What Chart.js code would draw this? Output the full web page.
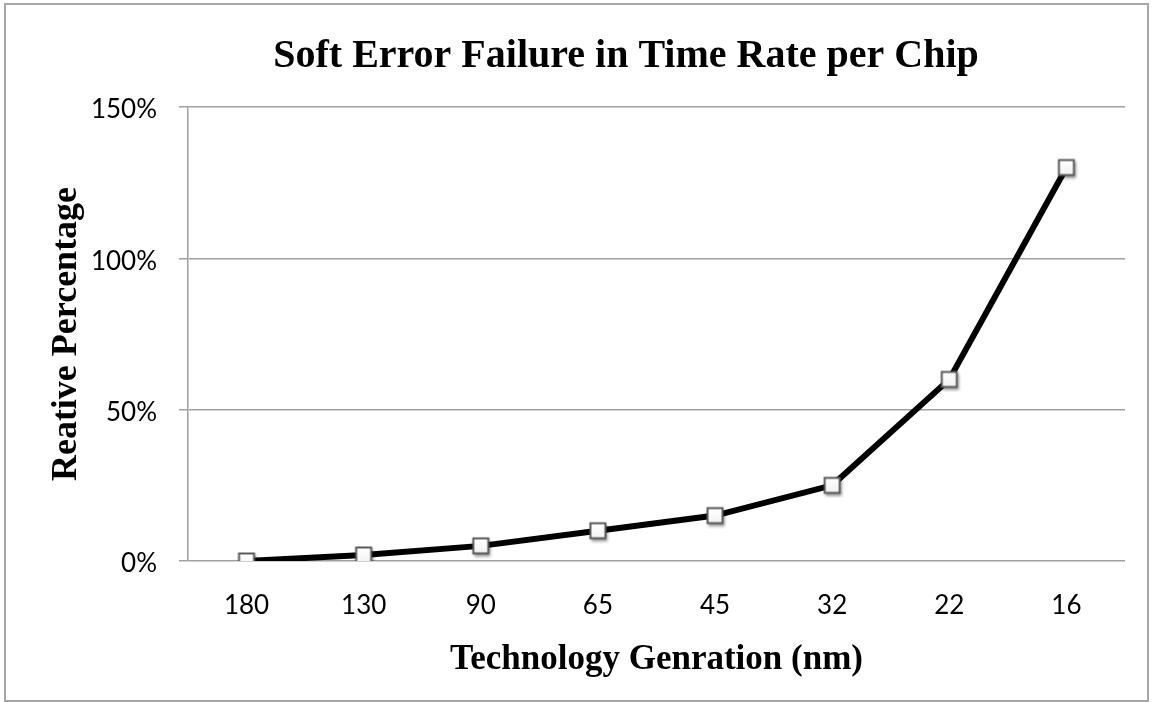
<!DOCTYPE html>
<html>
<head>
<meta charset="utf-8">
<script src="https://cdn.jsdelivr.net/npm/chart.js@4/dist/chart.umd.min.js"></script>
<style>
  html, body { margin: 0; padding: 0; background: #ffffff; }
  #wrap { position: relative; width: 1153px; height: 702px; }
</style>
</head>
<body>
<div id="wrap"><canvas id="c" width="1153" height="702"></canvas></div>
<script>
const categories = ['180', '130', '90', '65', '45', '32', '22', '16'];
const seriesValues = [0, 2, 5, 10, 15, 25, 60, 130];
const yTickValues = [0, 50, 100, 150];
const chartTitle = 'Soft Error Failure in Time Rate per Chip';
const xAxisTitle = 'Technology Genration (nm)';
const yAxisTitle = 'Reative Percentage';

// marker image: white square with grey border and a soft drop shadow
function makeMarker() {
  const c = document.createElement('canvas');
  c.width = 26; c.height = 26;
  const g = c.getContext('2d');
  g.save();
  g.shadowColor = 'rgba(0,0,0,0.45)';
  g.shadowBlur = 3;
  g.shadowOffsetX = 1;
  g.shadowOffsetY = 2;
  g.fillStyle = '#5a5a5a';
  g.fillRect(4.5, 4.5, 17, 17);
  g.restore();
  const grad = g.createLinearGradient(0, 7, 0, 20);
  grad.addColorStop(0, '#ffffff');
  grad.addColorStop(1, '#f2f2f2');
  g.fillStyle = grad;
  g.fillRect(6.5, 6.5, 13, 13);
  return c;
}
const markerImg = makeMarker();

const frameAndTitle = {
  id: 'frameAndTitle',
  beforeDraw(chart) {
    const ctx = chart.ctx;
    ctx.save();
    ctx.fillStyle = '#ffffff';
    ctx.fillRect(0, 0, chart.width, chart.height);
    ctx.strokeStyle = '#a6a6a6';
    ctx.lineWidth = 2;
    ctx.strokeRect(5, 4, 1143, 697);
    ctx.restore();
  },
  afterDraw(chart) {
    const ctx = chart.ctx;
    ctx.save();
    ctx.fillStyle = '#000000';
    ctx.font = 'bold 40px "Liberation Serif", "Times New Roman", serif';
    ctx.textAlign = 'center';
    ctx.textBaseline = 'alphabetic';
    ctx.fillText(chartTitle, 626, 67);
    ctx.restore();
  }
};

new Chart(document.getElementById('c'), {
  type: 'line',
  data: {
    labels: categories,
    datasets: [{
      data: seriesValues,
      borderColor: '#000000',
      borderWidth: 6,
      tension: 0,
      fill: false,
      pointStyle: markerImg,
      pointRadius: 12,
      pointHoverRadius: 12
    }]
  },
  options: {
    responsive: false,
    animation: false,
    events: [],
    layout: { padding: { left: 0, right: 28, top: 107, bottom: 0 } },
    plugins: {
      legend: { display: false },
      title: { display: false },
      tooltip: { enabled: false }
    },
    scales: {
      x: {
        offset: true,
        grid: { display: false, drawTicks: false },
        border: { display: false },
        ticks: {
          padding: 29,
          color: '#000000',
          font: { family: 'Lato', size: 26 }
        },
        title: {
          display: true,
          text: xAxisTitle,
          color: '#000000',
          font: { family: '"Liberation Serif", "Times New Roman", serif', size: 35, weight: 'bold' },
          padding: { top: 0, bottom: 21 }
        },
        afterFit(scale) { scale.height = 141; }
      },
      y: {
        min: 0,
        max: 150,
        afterBuildTicks(scale) { scale.ticks = yTickValues.map(v => ({ value: v })); },
        grid: { color: '#a0a0a0', lineWidth: 1.5, tickLength: 9, drawTicks: true },
        border: { display: true, color: '#a0a0a0', width: 1.5 },
        ticks: {
          padding: 22,
          labelOffset: 3,
          color: '#000000',
          font: { family: 'Lato', size: 26 },
          callback: v => v + '%'
        },
        title: {
          display: true,
          text: yAxisTitle,
          color: '#000000',
          font: { family: '"Liberation Serif", "Times New Roman", serif', size: 36, weight: 'bold' },
          padding: { top: 45, bottom: 0 }
        },
        afterFit(scale) { scale.width = 188; }
      }
    }
  },
  plugins: [frameAndTitle]
});
</script>
</body>
</html>
